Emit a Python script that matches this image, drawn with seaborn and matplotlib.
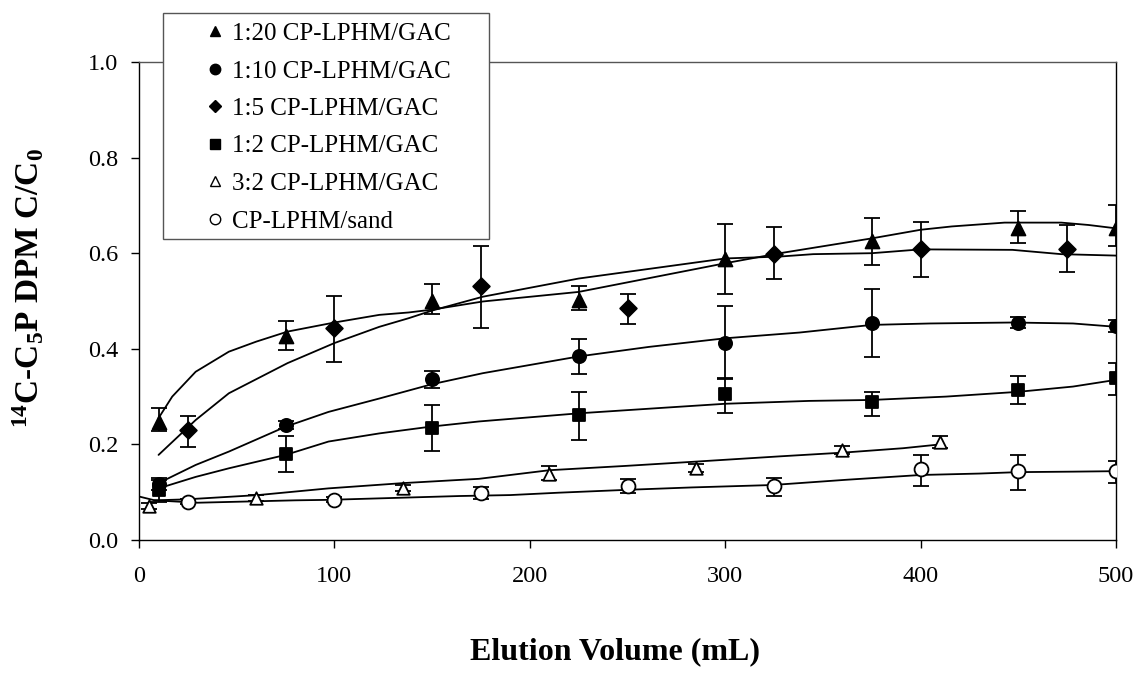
import matplotlib
matplotlib.use("Agg")
import matplotlib.pyplot as plt
from matplotlib.lines import Line2D
from matplotlib.patches import Rectangle
import seaborn as sns
import pandas as pd

# ---------------- data ----------------
labels = ["1:20 CP-LPHM/GAC", "1:10 CP-LPHM/GAC", "1:5 CP-LPHM/GAC",
          "1:2 CP-LPHM/GAC", "3:2 CP-LPHM/GAC", "CP-LPHM/sand"]

# measured points (x, mean, lower, upper)
x_120 = [10, 75, 150, 225, 300, 375, 450, 500]
y_120 = [0.247, 0.427, 0.500, 0.502, 0.588, 0.625, 0.653, 0.652]
lo_120 = [0.227, 0.397, 0.472, 0.481, 0.515, 0.575, 0.622, 0.615]
hi_120 = [0.276, 0.458, 0.535, 0.531, 0.662, 0.673, 0.689, 0.700]

x_110 = [10, 75, 150, 225, 300, 375, 450, 500]
y_110 = [0.117, 0.240, 0.336, 0.385, 0.413, 0.455, 0.455, 0.448]
lo_110 = [0.105, 0.232, 0.318, 0.347, 0.338, 0.383, 0.443, 0.435]
hi_110 = [0.125, 0.250, 0.354, 0.420, 0.490, 0.525, 0.466, 0.460]

x_15 = [25, 100, 175, 250, 325, 400, 475]
y_15 = [0.230, 0.444, 0.531, 0.485, 0.598, 0.608, 0.608]
lo_15 = [0.195, 0.373, 0.444, 0.451, 0.545, 0.551, 0.561]
hi_15 = [0.260, 0.511, 0.616, 0.515, 0.655, 0.666, 0.659]

x_12 = [10, 75, 150, 225, 300, 375, 450, 500]
y_12 = [0.105, 0.180, 0.234, 0.261, 0.305, 0.289, 0.314, 0.339]
lo_12 = [0.080, 0.143, 0.186, 0.209, 0.266, 0.260, 0.285, 0.303]
hi_12 = [0.130, 0.218, 0.282, 0.310, 0.336, 0.310, 0.343, 0.370]

x_32 = [5, 60, 135, 210, 285, 360, 410]
y_32 = [0.071, 0.088, 0.109, 0.139, 0.151, 0.188, 0.206]
lo_32 = [0.065, 0.082, 0.103, 0.125, 0.143, 0.180, 0.192]
hi_32 = [0.078, 0.094, 0.115, 0.155, 0.160, 0.196, 0.218]

x_sand = [25, 100, 175, 250, 325, 400, 450, 500]
y_sand = [0.080, 0.084, 0.099, 0.113, 0.113, 0.148, 0.144, 0.144]
lo_sand = [0.075, 0.079, 0.085, 0.099, 0.092, 0.112, 0.105, 0.119]
hi_sand = [0.085, 0.089, 0.110, 0.127, 0.130, 0.178, 0.178, 0.165]

# model curves
cx_120 = [10, 17, 29, 46, 60, 76, 100, 123, 138, 150, 176, 225, 300, 328, 375, 400, 416, 443, 472, 486, 500]
cy_120 = [0.255, 0.300, 0.352, 0.394, 0.415, 0.436, 0.455, 0.471, 0.476, 0.482, 0.499, 0.519, 0.579, 0.600,
          0.631, 0.649, 0.656, 0.664, 0.664, 0.659, 0.652]

cx_15 = [10, 29, 46, 76, 100, 123, 138, 150, 176, 225, 300, 328, 345, 375, 400, 447, 472, 500]
cy_15 = [0.178, 0.251, 0.307, 0.370, 0.412, 0.446, 0.464, 0.480, 0.509, 0.547, 0.589, 0.593, 0.598, 0.600,
         0.608, 0.607, 0.598, 0.595]

cx_110 = [10, 29, 46, 75, 97, 123, 150, 176, 225, 261, 300, 338, 375, 405, 447, 478, 500]
cy_110 = [0.119, 0.157, 0.185, 0.237, 0.268, 0.296, 0.326, 0.349, 0.384, 0.404, 0.422, 0.434, 0.450, 0.453,
          0.455, 0.453, 0.446]

cx_12 = [10, 29, 46, 75, 97, 123, 149, 174, 225, 266, 300, 343, 375, 413, 450, 478, 500]
cy_12 = [0.108, 0.132, 0.150, 0.178, 0.206, 0.223, 0.237, 0.248, 0.265, 0.276, 0.285, 0.291, 0.293, 0.300,
         0.310, 0.321, 0.335]

cx_32 = [0, 8, 24, 61, 97, 135, 174, 210, 249, 285, 328, 361, 391, 410]
cy_32 = [0.091, 0.083, 0.085, 0.094, 0.108, 0.119, 0.128, 0.146, 0.155, 0.164, 0.175, 0.183, 0.192, 0.200]

cx_sand = [8, 30, 80, 97, 164, 190, 215, 250, 283, 324, 362, 400, 430, 450, 478, 500]
cy_sand = [0.083, 0.078, 0.083, 0.084, 0.092, 0.094, 0.099, 0.105, 0.110, 0.115, 0.126, 0.136, 0.139,
           0.142, 0.143, 0.144]

x_ticks = [0, 100, 200, 300, 400, 500]
y_ticks = [0.0, 0.2, 0.4, 0.6, 0.8, 1.0]

# ---------------- style ----------------
sns.set_theme(style="white")
plt.rcParams["font.family"] = ["Liberation Serif", "DejaVu Serif"]
plt.rcParams["text.color"] = "black"
plt.rcParams["axes.labelcolor"] = "black"
plt.rcParams["mathtext.fontset"] = "custom"
plt.rcParams["mathtext.rm"] = "Liberation Serif:bold"
plt.rcParams["mathtext.bf"] = "Liberation Serif:bold"
plt.rcParams["mathtext.default"] = "bf"

W, H = 1139, 679
fig = plt.figure(figsize=(W / 100, H / 100), dpi=100)
ax = fig.add_axes([139 / W, 1 - 540 / H, (1116 - 139) / W, (540 - 62) / H])

series = [
    (x_120, y_120, lo_120, hi_120, cx_120, cy_120, "^", "black", 10),
    (x_110, y_110, lo_110, hi_110, cx_110, cy_110, "o", "black", 9.5),
    (x_15, y_15, lo_15, hi_15, cx_15, cy_15, "D", "black", 8.5),
    (x_12, y_12, lo_12, hi_12, cx_12, cy_12, "s", "black", 9),
    (x_32, y_32, lo_32, hi_32, cx_32, cy_32, "^", "white", 9),
    (x_sand, y_sand, lo_sand, hi_sand, cx_sand, cy_sand, "o", "white", 10),
]

for xs, ys, lo, hi, cx, cy, mk, fc, ms in series:
    cdf = pd.DataFrame({"x": cx, "y": cy})
    sns.lineplot(data=cdf, x="x", y="y", sort=False, color="black", lw=1.3, ax=ax, zorder=2)
    yerr = [[y - l for y, l in zip(ys, lo)], [h - y for y, h in zip(ys, hi)]]
    ax.errorbar(xs, ys, yerr=yerr, fmt="none", ecolor="black", elinewidth=1.3,
                capsize=5.5, capthick=1.3, zorder=3)
    pdf = pd.DataFrame({"x": xs, "y": ys})
    sns.scatterplot(data=pdf, x="x", y="y", marker=mk, s=ms ** 2, color=fc,
                    edgecolor="black", linewidth=1.3, ax=ax, zorder=4, legend=False)

ax.set_xlim(0, 500)
ax.set_ylim(0, 1.0)
ax.set_xticks(x_ticks)
ax.set_yticks(y_ticks)
ax.set_xticklabels([str(v) for v in x_ticks])
ax.set_yticklabels([f"{v:.1f}" for v in y_ticks])
ax.tick_params(axis="both", direction="out", length=6, width=1, color="black",
               labelsize=17.5, labelcolor="black", bottom=True, left=True)
ax.tick_params(axis="x", pad=13)
ax.tick_params(axis="y", pad=9)
for side in ["left", "bottom", "right", "top"]:
    ax.spines[side].set_visible(True)
    ax.spines[side].set_color("black")
    ax.spines[side].set_linewidth(1.0)
ax.spines["top"].set_color("#555555")

ax.set_xlabel("")
ax.set_ylabel("")
fig.text(615 / W, 1 - 652 / H, "Elution Volume (mL)", ha="center", va="center",
         fontsize=23, fontweight="bold", color="black")
fig.text(29 / W, 1 - 288 / H, r"$^{14}$C-C$_5$P DPM C/C$_0$", ha="center", va="center",
         rotation=90, fontsize=24, fontweight="bold", color="black")

# legend frame drawn as a figure patch, entries placed inside it
fig.patches.append(Rectangle((163 / W, 1 - 239 / H), (489 - 163) / W, (239 - 13) / H,
                             transform=fig.transFigure, facecolor="white", edgecolor="#555555",
                             linewidth=1.0, zorder=3))
handles = []
leg_styles = [("^", "black"), ("o", "black"), ("D", "black"), ("s", "black"), ("^", "white"), ("o", "white")]
for (mk, fc), lab in zip(leg_styles, labels):
    handles.append(Line2D([], [], linestyle="none", marker=mk, markersize=7.5 if mk != "D" else 6,
                          markerfacecolor=fc, markeredgecolor="black", markeredgewidth=1.0, label=lab))
leg = fig.legend(handles=handles, loc="upper left", bbox_to_anchor=(197 / W, 1 - 15 / H),
                 fontsize=18, frameon=False, labelcolor="black",
                 handlelength=0.8, handletextpad=0.3, labelspacing=0.6, borderpad=0.3,
                 borderaxespad=0)
leg.set_zorder(6)

fig.savefig("out.png", dpi=100, facecolor="white")
